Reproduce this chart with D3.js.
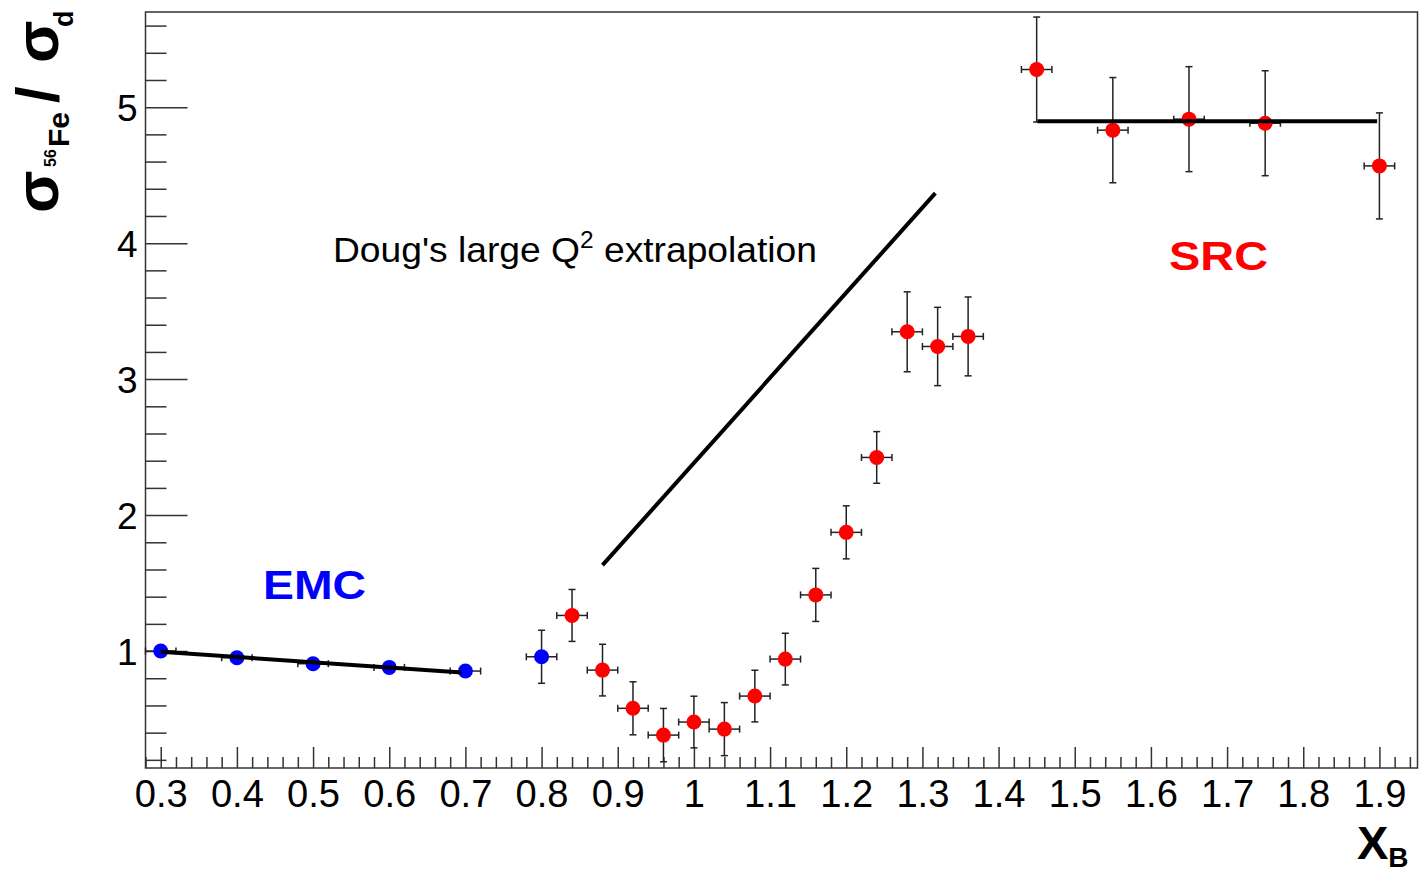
<!DOCTYPE html>
<html>
<head>
<meta charset="utf-8">
<script src="https://cdn.jsdelivr.net/npm/d3@7/dist/d3.min.js"></script>
<style>
html,body{margin:0;padding:0;background:#fff;}
svg{display:block;}
text{font-family:"Liberation Sans",Arial,Helvetica,sans-serif;}
</style>
</head>
<body>
<svg id="chart" width="1426" height="873"></svg>
<script>
// ---------- data ----------
const xTickLabels = ["0.3","0.4","0.5","0.6","0.7","0.8","0.9","1","1.1","1.2","1.3","1.4","1.5","1.6","1.7","1.8","1.9"];
const xTickValues = [0.3,0.4,0.5,0.6,0.7,0.8,0.9,1.0,1.1,1.2,1.3,1.4,1.5,1.6,1.7,1.8,1.9];
const yTickValues = [1,2,3,4,5];
const yTickLabels = ["1","2","3","4","5"];

// EMC (blue) points
const emcX  = [0.30, 0.40, 0.50, 0.60, 0.70, 0.80];
const emcY  = [1.000, 0.951, 0.907, 0.880, 0.853, 0.958];
const emcEY = [0.010, 0.010, 0.010, 0.010, 0.010, 0.195];
const emcEX = [0.020, 0.020, 0.020, 0.020, 0.020, 0.020];

// red points
const redX  = [0.84, 0.88, 0.92, 0.96, 1.00, 1.04, 1.08, 1.12, 1.16, 1.20, 1.24, 1.28, 1.32, 1.36, 1.45, 1.55, 1.65, 1.75, 1.90];
const redY  = [1.262, 0.860, 0.579, 0.382, 0.478, 0.426, 0.669, 0.941, 1.413, 1.873, 2.424, 3.348, 3.240, 3.314, 5.277, 4.831, 4.912, 4.882, 4.568];
const redEY = [0.191, 0.190, 0.195, 0.196, 0.190, 0.195, 0.190, 0.190, 0.195, 0.195, 0.190, 0.294, 0.288, 0.290, 0.386, 0.387, 0.386, 0.386, 0.390];
const redEX = [0.02, 0.02, 0.02, 0.02, 0.02, 0.02, 0.02, 0.02, 0.02, 0.02, 0.02, 0.02, 0.02, 0.02, 0.02, 0.02, 0.02, 0.02, 0.02];

// lines
const emcFitX  = [0.30, 0.695];
const emcFitY  = [0.995, 0.843];
const dougX    = [0.880, 1.317];
const dougY    = [1.632, 4.368];
const srcFitX  = [1.451, 1.897];
const srcFitY  = [4.897, 4.897];

// ---------- layout ----------
const L = 145.5, R = 1417.5, T = 12, B = 768;
const svg = d3.select("#chart");
const x = d3.scaleLinear().domain([0.28, 1.95]).range([L, R]);
const y = d3.scaleLinear().domain([0.14, 5.70]).range([B, T]);

const axisColor = "#333";

// minor ticks
const xMinor = d3.range(14, 98).map(i => i * 0.02).filter(v => v >= 0.28 - 1e-9 && v <= 1.95 && Math.abs(v*10 - Math.round(v*10)) > 1e-6);
const yMinor = d3.range(1, 29).map(i => i * 0.2).filter(v => Math.abs(v - Math.round(v)) > 1e-6);

// x axis
const gx = svg.append("g").attr("transform", `translate(0,${B})`);
gx.call(d3.axisBottom(x).tickValues(xMinor).tickSizeInner(-11).tickSizeOuter(0).tickFormat(""));
gx.call(g => g.select(".domain").remove());
const gx2 = svg.append("g").attr("transform", `translate(0,${B})`);
gx2.call(d3.axisBottom(x).tickValues(xTickValues).tickSizeInner(-21).tickSizeOuter(0)
  .tickFormat((d, i) => xTickLabels[i]));
gx2.call(g => g.select(".domain").remove());
gx2.selectAll("text").attr("y", 39).attr("dy", null)
  .attr("font-size", 38).attr("fill", "#000")
  .attr("textLength", d => xTickLabels[xTickValues.indexOf(d)].length === 1 ? null : 53)
  .attr("lengthAdjust", "spacingAndGlyphs")
  .style("font-family", '"Liberation Sans",Arial,sans-serif');
svg.selectAll(".tick line").attr("stroke", axisColor).attr("stroke-width", 1.5);

// y axis
const gy = svg.append("g").attr("transform", `translate(${L},0)`);
gy.call(d3.axisLeft(y).tickValues(yMinor).tickSizeInner(-21).tickSizeOuter(0).tickFormat(""));
gy.call(g => g.select(".domain").remove());
const gy2 = svg.append("g").attr("transform", `translate(${L},0)`);
gy2.call(d3.axisLeft(y).tickValues(yTickValues).tickSizeInner(-42).tickSizeOuter(0)
  .tickFormat((d, i) => yTickLabels[i]));
gy2.call(g => g.select(".domain").remove());
gy2.selectAll("text").attr("x", -8).attr("dy", "0.36em")
  .attr("font-size", 37).attr("fill", "#000")
  .style("font-family", '"Liberation Sans",Arial,sans-serif');
svg.selectAll(".tick line").attr("stroke", axisColor).attr("stroke-width", 1.5);

// frame
svg.append("rect").attr("x", L).attr("y", T).attr("width", R - L).attr("height", B - T)
  .attr("fill", "none").attr("stroke", axisColor).attr("stroke-width", 1.5);

// lines
const line = d3.line().x(d => x(d[0])).y(d => y(d[1]));
function drawLine(xs, ys) {
  svg.append("path").datum(xs.map((v, i) => [v, ys[i]]))
    .attr("d", line).attr("fill", "none").attr("stroke", "#000").attr("stroke-width", 4);
}

// error bars + markers
function drawSeries(xs, ys, exs, eys) {
  const g = svg.append("g");
  const data = xs.map((v, i) => ({x: v, y: ys[i], ex: exs[i], ey: eys[i]}));
  const cap = 3.5;
  const eb = g.selectAll("g.eb").data(data).join("g").attr("class", "eb")
    .attr("stroke", "#222").attr("stroke-width", 1.5);
  eb.append("line").attr("x1", d => x(d.x - d.ex)).attr("x2", d => x(d.x + d.ex))
    .attr("y1", d => y(d.y)).attr("y2", d => y(d.y));
  eb.append("line").attr("x1", d => x(d.x)).attr("x2", d => x(d.x))
    .attr("y1", d => y(d.y - d.ey)).attr("y2", d => y(d.y + d.ey));
  eb.append("line").attr("x1", d => x(d.x - d.ex)).attr("x2", d => x(d.x - d.ex))
    .attr("y1", d => y(d.y) - cap).attr("y2", d => y(d.y) + cap);
  eb.append("line").attr("x1", d => x(d.x + d.ex)).attr("x2", d => x(d.x + d.ex))
    .attr("y1", d => y(d.y) - cap).attr("y2", d => y(d.y) + cap);
  eb.append("line").attr("x1", d => x(d.x) - cap).attr("x2", d => x(d.x) + cap)
    .attr("y1", d => y(d.y - d.ey)).attr("y2", d => y(d.y - d.ey));
  eb.append("line").attr("x1", d => x(d.x) - cap).attr("x2", d => x(d.x) + cap)
    .attr("y1", d => y(d.y + d.ey)).attr("y2", d => y(d.y + d.ey));
  return {g, data};
}
function drawMarkers(s, color) {
  s.g.selectAll("circle").data(s.data).join("circle")
    .attr("cx", d => x(d.x)).attr("cy", d => y(d.y)).attr("r", 7.5).attr("fill", color);
}

const redS = drawSeries(redX, redY, redEX, redEY);
const emcS = drawSeries(emcX, emcY, emcEX, emcEY);
drawLine(srcFitX, srcFitY);
drawLine(dougX, dougY);
drawMarkers(redS, "#ff0000");
drawMarkers(emcS, "#0000ff");
drawLine(emcFitX, emcFitY);

// annotations
svg.append("text").attr("x", 263).attr("y", 599).attr("font-size", 41).attr("font-weight", "bold")
  .attr("fill", "#0000ff").attr("textLength", 103).attr("lengthAdjust", "spacingAndGlyphs").text("EMC");
svg.append("text").attr("x", 1169).attr("y", 270).attr("font-size", 41).attr("font-weight", "bold")
  .attr("fill", "#ff0000").attr("textLength", 99).attr("lengthAdjust", "spacingAndGlyphs").text("SRC");
const dt = svg.append("text").attr("x", 333).attr("y", 262).attr("font-size", 35).attr("fill", "#000")
  .attr("textLength", 484).attr("lengthAdjust", "spacingAndGlyphs");
dt.append("tspan").text("Doug's large Q");
dt.append("tspan").attr("font-size", 23).attr("dy", -14).text("2");
dt.append("tspan").attr("dy", 14).text(" extrapolation");

// x title
const xt = svg.append("text").attr("x", 1357).attr("y", 859).attr("font-weight", "bold").attr("fill", "#000");
xt.append("tspan").attr("font-size", 47).text("X");
xt.append("tspan").attr("font-size", 28).attr("dy", 8).text("B");

// y title (rotated)
const yt = svg.append("text").attr("transform", "translate(58,213) rotate(-90)")
  .attr("font-weight", "bold").attr("fill", "#000");
yt.append("tspan").attr("x", 0).attr("font-size", 62).text("σ");
yt.append("tspan").attr("x", 46).attr("dy", -2).attr("font-size", 16).text("56");
yt.append("tspan").attr("x", 66).attr("dy", 13).attr("font-size", 30).text("Fe");
yt.append("tspan").attr("x", 110).attr("dy", -11).attr("font-size", 60).text("/");
yt.append("tspan").attr("x", 150).attr("font-size", 62).text("σ");
yt.append("tspan").attr("x", 186).attr("dy", 15).attr("font-size", 27).text("d");
</script>
</body>
</html>
